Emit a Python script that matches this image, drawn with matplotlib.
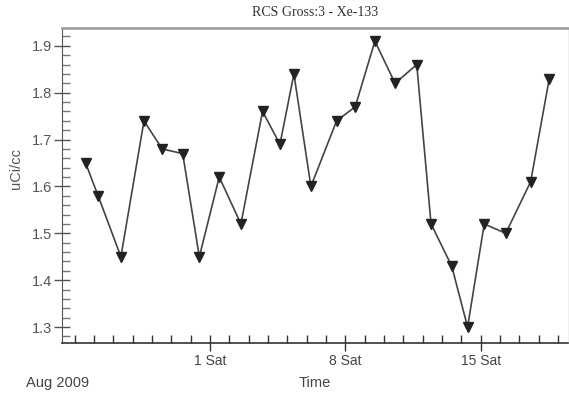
import pandas as pd
import matplotlib
matplotlib.use("Agg")
import matplotlib.pyplot as plt
import matplotlib.dates as mdates
from matplotlib.ticker import MultipleLocator, FixedLocator, FuncFormatter

# 取樣時間與濃度 (Xe-133, uCi/cc)
sample_times = [
    "2009-07-25 13:40", "2009-07-26 05:15", "2009-07-27 09:30", "2009-07-28 14:10",
    "2009-07-29 12:40", "2009-07-30 14:10", "2009-07-31 10:50", "2009-08-01 11:30",
    "2009-08-02 14:25", "2009-08-03 17:15", "2009-08-04 14:50", "2009-08-05 08:10",
    "2009-08-06 05:15", "2009-08-07 13:10", "2009-08-08 12:15", "2009-08-09 12:40",
    "2009-08-10 13:40", "2009-08-11 16:35", "2009-08-12 10:20", "2009-08-13 12:00",
    "2009-08-14 07:40", "2009-08-15 04:20", "2009-08-16 07:00", "2009-08-17 13:55",
    "2009-08-18 13:00",
]
xe133 = [1.65, 1.58, 1.45, 1.74, 1.68, 1.67, 1.45, 1.62, 1.52, 1.76, 1.69, 1.84,
         1.60, 1.74, 1.77, 1.91, 1.82, 1.86, 1.52, 1.43, 1.30, 1.52, 1.50, 1.61, 1.83]

# 標示的週六
major_days = ["2009-08-01", "2009-08-08", "2009-08-15"]
major_labels = ["1 Sat", "8 Sat", "15 Sat"]

times = pd.to_datetime(sample_times)

fig = plt.figure(figsize=(5.69, 3.96), dpi=100)
ax = fig.add_axes([62 / 569, 1 - 343 / 396, 506 / 569, 315 / 396])

ax.plot(times, xe133, color="#444444", linewidth=1.2, marker="v",
        markersize=6.5, markerfacecolor="#222222", markeredgecolor="#222222")

ax.set_xlim(pd.Timestamp("2009-07-24 08:25"), pd.Timestamp("2009-08-19 12:15"))
ax.set_ylim(1.266, 1.938)

# 座標軸刻度
ax.set_xticks(mdates.date2num(pd.to_datetime(major_days)))
ax.set_xticklabels(major_labels)
ax.xaxis.set_minor_locator(mdates.DayLocator())
ax.yaxis.set_major_locator(MultipleLocator(0.1))
ax.yaxis.set_minor_locator(MultipleLocator(0.02))
ax.yaxis.set_major_formatter(FuncFormatter(lambda v, p: f"{v:.1f}"))

ax.tick_params(axis="x", which="major", direction="inout", length=12, width=1,
               color="#333333", labelsize=10, labelcolor="#444444", pad=2)
ax.tick_params(axis="x", which="minor", direction="in", length=6, width=1, color="#333333")
ax.tick_params(axis="y", which="major", direction="inout", length=12, width=1,
               color="#555555", labelsize=10.5, labelcolor="#555555", pad=1)
ax.tick_params(axis="y", which="minor", direction="in", length=6, width=1, color="#777777")

for lab in ax.get_xticklabels() + ax.get_yticklabels():
    lab.set_fontfamily("Liberation Sans")

ax.spines["left"].set_color("#555555")
ax.spines["bottom"].set_color("#333333")
ax.spines["bottom"].set_linewidth(1.2)
ax.spines["top"].set_color("#999999")
ax.spines["top"].set_linewidth(1.8)
ax.spines["right"].set_color("#eeeeee")
ax.spines["right"].set_linewidth(0.6)

fig.text(315 / 569, 1 - 12 / 396, "RCS Gross:3 - Xe-133", ha="center", va="center",
         fontsize=10, family="Liberation Serif", color="#333333")
fig.text(16 / 569, 1 - 168 / 396, "uCi/cc", rotation=90, ha="center", va="center",
         fontsize=10.5, family="Liberation Sans", color="#555555")
fig.text(58 / 569, 1 - 383 / 396, "Aug 2009", ha="center", va="center",
         fontsize=10.5, family="Liberation Sans", color="#444444")
fig.text(315 / 569, 1 - 383 / 396, "Time", ha="center", va="center",
         fontsize=10.5, family="Liberation Sans", color="#444444")

fig.savefig("out.png", dpi=100)
